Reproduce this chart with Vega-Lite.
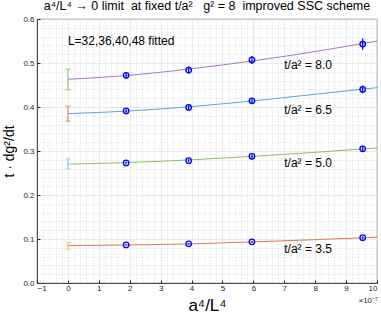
{
  "$schema": "https://vega.github.io/schema/vega-lite/v6.json",
  "width": 340,
  "height": 264,
  "autosize": {"type": "none"},
  "padding": {"left": 37, "top": 19, "right": 4, "bottom": 36},
  "background": "white",
  "title": {
    "text": "a⁴/L⁴ → 0 limit\u00a0 at fixed t/a²\u00a0\u00a0 g² = 8\u00a0 improved SSC scheme",
    "fontSize": 12.5,
    "fontWeight": "normal",
    "font": "Liberation Sans",
    "color": "black",
    "anchor": "middle",
    "offset": 3
  },
  "config": {
    "view": {"stroke": "#262626", "strokeWidth": 0.8},
    "axis": {
      "labelFont": "Liberation Sans",
      "labelFontSize": 8,
      "labelColor": "#262626",
      "titleFont": "Liberation Sans",
      "titleFontWeight": "normal",
      "titleColor": "black",
      "domainColor": "#262626",
      "tickColor": "#262626",
      "domainWidth": 0.8
    },
    "text": {"font": "Liberation Sans"}
  },
  "datasets": {
    "points": [
      {"t": "8.0", "x": 1.884, "y": 0.472, "lo": 0.465, "hi": 0.479},
      {"t": "8.0", "x": 3.906, "y": 0.484, "lo": 0.476, "hi": 0.492},
      {"t": "8.0", "x": 5.954, "y": 0.507, "lo": 0.498, "hi": 0.516},
      {"t": "8.0", "x": 9.537, "y": 0.543, "lo": 0.530, "hi": 0.556},
      {"t": "6.5", "x": 1.884, "y": 0.391, "lo": 0.387, "hi": 0.395},
      {"t": "6.5", "x": 3.906, "y": 0.399, "lo": 0.394, "hi": 0.404},
      {"t": "6.5", "x": 5.954, "y": 0.414, "lo": 0.408, "hi": 0.420},
      {"t": "6.5", "x": 9.537, "y": 0.440, "lo": 0.431, "hi": 0.449},
      {"t": "5.0", "x": 1.884, "y": 0.273, "lo": 0.270, "hi": 0.276},
      {"t": "5.0", "x": 3.906, "y": 0.278, "lo": 0.275, "hi": 0.281},
      {"t": "5.0", "x": 5.954, "y": 0.288, "lo": 0.284, "hi": 0.292},
      {"t": "5.0", "x": 9.537, "y": 0.305, "lo": 0.300, "hi": 0.310},
      {"t": "3.5", "x": 1.884, "y": 0.0865, "lo": 0.0850, "hi": 0.0880},
      {"t": "3.5", "x": 3.906, "y": 0.0890, "lo": 0.0870, "hi": 0.0910},
      {"t": "3.5", "x": 5.954, "y": 0.0935, "lo": 0.0910, "hi": 0.0960},
      {"t": "3.5", "x": 9.537, "y": 0.1030, "lo": 0.0995, "hi": 0.1065}
    ],
    "extrap": [
      {"t": "8.0", "x": 0, "lo": 0.439, "hi": 0.486},
      {"t": "6.5", "x": 0, "lo": 0.368, "hi": 0.402},
      {"t": "5.0", "x": 0, "lo": 0.259, "hi": 0.282},
      {"t": "3.5", "x": 0, "lo": 0.077, "hi": 0.0925}
    ],
    "fit": [
      {"t": "8.0", "x": 0, "y": 0.463},
      {"t": "8.0", "x": 2, "y": 0.472},
      {"t": "8.0", "x": 4, "y": 0.487},
      {"t": "8.0", "x": 6, "y": 0.505},
      {"t": "8.0", "x": 8, "y": 0.526},
      {"t": "8.0", "x": 10, "y": 0.550},
      {"t": "6.5", "x": 0, "y": 0.385},
      {"t": "6.5", "x": 2, "y": 0.391},
      {"t": "6.5", "x": 4, "y": 0.401},
      {"t": "6.5", "x": 6, "y": 0.414},
      {"t": "6.5", "x": 8, "y": 0.429},
      {"t": "6.5", "x": 10, "y": 0.444},
      {"t": "5.0", "x": 0, "y": 0.270},
      {"t": "5.0", "x": 2, "y": 0.274},
      {"t": "5.0", "x": 4, "y": 0.280},
      {"t": "5.0", "x": 6, "y": 0.288},
      {"t": "5.0", "x": 8, "y": 0.297},
      {"t": "5.0", "x": 10, "y": 0.307},
      {"t": "3.5", "x": 0, "y": 0.085},
      {"t": "3.5", "x": 2, "y": 0.0865},
      {"t": "3.5", "x": 4, "y": 0.089},
      {"t": "3.5", "x": 6, "y": 0.0935},
      {"t": "3.5", "x": 8, "y": 0.0985},
      {"t": "3.5", "x": 10, "y": 0.104}
    ],
    "labels": [
      {"label": "t/a² = 8.0", "x": 7.0, "y": 0.495},
      {"label": "t/a² = 6.5", "x": 7.0, "y": 0.393},
      {"label": "t/a² = 5.0", "x": 7.0, "y": 0.272},
      {"label": "t/a² = 3.5", "x": 7.0, "y": 0.077}
    ],
    "notes": [
      {"label": "L=32,36,40,48 fitted", "x": 0.0, "y": 0.55}
    ],
    "exponent": [
      {"label": "×10⁻⁷", "x": 10.03, "y": -0.041}
    ]
  },
  "layer": [
    {
      "data": {"name": "fit"},
      "mark": {"type": "point", "opacity": 0},
      "encoding": {
        "x": {"field": "x", "type": "quantitative", "scale": {"domain": [-1, 10], "nice": false},
          "axis": {"orient": "bottom", "values": [-0.8,-0.6,-0.4,-0.2,0.2,0.4,0.6,0.8,1.2,1.4,1.6,1.8,2.2,2.4,2.6,2.8,3.2,3.4,3.6,3.8,4.2,4.4,4.6,4.8,5.2,5.4,5.6,5.8,6.2,6.4,6.6,6.8,7.2,7.4,7.6,7.8,8.2,8.4,8.6,8.8,9.2,9.4,9.6,9.8],
            "grid": true, "gridDash": [1, 2], "gridColor": "#c8c8c8", "gridWidth": 0.6,
            "labels": false, "ticks": false, "domain": false, "title": null}},
        "y": {"field": "y", "type": "quantitative", "scale": {"domain": [0, 0.6], "nice": false},
          "axis": {"orient": "left", "values": [0.02,0.04,0.06,0.08,0.12,0.14,0.16,0.18,0.22,0.24,0.26,0.28,0.32,0.34,0.36,0.38,0.42,0.44,0.46,0.48,0.52,0.54,0.56,0.58],
            "grid": true, "gridDash": [1, 2], "gridColor": "#c8c8c8", "gridWidth": 0.6,
            "labels": false, "ticks": false, "domain": false, "title": null}}
      }
    },
    {
      "data": {"name": "fit"},
      "mark": {"type": "line", "strokeWidth": 1, "interpolate": "monotone"},
      "encoding": {
        "x": {"field": "x", "type": "quantitative",
          "axis": {"orient": "bottom", "values": [-1,0,1,2,3,4,5,6,7,8,9,10], "grid": true, "gridColor": "#e3e3e3", "gridWidth": 0.8,
            "tickSize": -3, "labelPadding": 4, "title": "a⁴/L⁴", "titleFontSize": 17, "titlePadding": 5}},
        "y": {"field": "y", "type": "quantitative",
          "axis": {"orient": "left", "values": [0,0.1,0.2,0.3,0.4,0.5,0.6], "grid": true, "gridColor": "#e3e3e3", "gridWidth": 0.8,
            "tickSize": -3, "labelPadding": 6, "title": "t · dg²/dt", "titleFontSize": 14, "titlePadding": 6}},
        "detail": {"field": "t"},
        "stroke": {"field": "t", "type": "nominal", "legend": null,
          "scale": {"domain": ["3.5", "5.0", "6.5", "8.0"], "range": ["#E5764A", "#8CC05A", "#5AA6DA", "#A874C4"]}}
      }
    },
    {
      "data": {"name": "extrap"},
      "mark": {"type": "rule", "strokeWidth": 1},
      "encoding": {
        "x": {"field": "x", "type": "quantitative", "axis": null},
        "y": {"field": "lo", "type": "quantitative", "axis": null},
        "y2": {"field": "hi"},
        "color": {"field": "t", "type": "nominal", "legend": null,
          "scale": {"domain": ["3.5", "5.0", "6.5", "8.0"], "range": ["#F0C04A", "#6CCFF0", "#E5764A", "#8CC05A"]}}
      }
    },
    {
      "data": {"name": "extrap"},
      "mark": {"type": "tick", "orient": "horizontal", "size": 6, "thickness": 1},
      "encoding": {
        "x": {"field": "x", "type": "quantitative", "axis": null},
        "y": {"field": "lo", "type": "quantitative", "axis": null},
        "color": {"field": "t", "type": "nominal", "legend": null}
      }
    },
    {
      "data": {"name": "extrap"},
      "mark": {"type": "tick", "orient": "horizontal", "size": 6, "thickness": 1},
      "encoding": {
        "x": {"field": "x", "type": "quantitative", "axis": null},
        "y": {"field": "hi", "type": "quantitative", "axis": null},
        "color": {"field": "t", "type": "nominal", "legend": null}
      }
    },
    {
      "data": {"name": "points"},
      "mark": {"type": "rule", "strokeWidth": 1.2, "color": "#0000FF"},
      "encoding": {
        "x": {"field": "x", "type": "quantitative", "axis": null},
        "y": {"field": "lo", "type": "quantitative", "axis": null},
        "y2": {"field": "hi"}
      }
    },
    {
      "data": {"name": "points"},
      "mark": {"type": "point", "shape": "circle", "filled": false, "size": 30, "strokeWidth": 1.3, "color": "#0000FF", "opacity": 1},
      "encoding": {
        "x": {"field": "x", "type": "quantitative", "axis": null},
        "y": {"field": "y", "type": "quantitative", "axis": null}
      }
    },
    {
      "data": {"name": "labels"},
      "mark": {"type": "text", "align": "left", "baseline": "middle", "fontSize": 12, "color": "black"},
      "encoding": {
        "x": {"field": "x", "type": "quantitative", "axis": null},
        "y": {"field": "y", "type": "quantitative", "axis": null},
        "text": {"field": "label"}
      }
    },
    {
      "data": {"name": "notes"},
      "mark": {"type": "text", "align": "left", "baseline": "middle", "fontSize": 12, "color": "black"},
      "encoding": {
        "x": {"field": "x", "type": "quantitative", "axis": null},
        "y": {"field": "y", "type": "quantitative", "axis": null},
        "text": {"field": "label"}
      }
    },
    {
      "data": {"name": "exponent"},
      "mark": {"type": "text", "align": "right", "baseline": "middle", "fontSize": 8, "color": "#262626"},
      "encoding": {
        "x": {"field": "x", "type": "quantitative", "axis": null},
        "y": {"field": "y", "type": "quantitative", "axis": null},
        "text": {"field": "label"}
      }
    }
  ],
  "resolve": {"axis": {"x": "independent", "y": "independent"}}
}
